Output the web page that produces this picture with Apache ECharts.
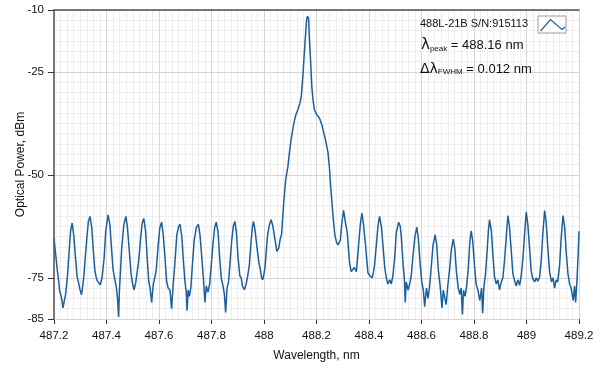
<!DOCTYPE html>
<html><head><meta charset="utf-8">
<script src="https://cdn.jsdelivr.net/npm/echarts@6/dist/echarts.min.js"></script>
<style>html,body{margin:0;padding:0;background:#fff}#c{width:599px;height:370px}</style>
</head><body><div id="c"></div>
<script>
// Axis settings
const xMin = 487.2, xMax = 489.2, xStep = 0.2;
const yMin = -85, yMax = -10;
const yTickValues = [-85, -75, -50, -25, -10];
const seriesName = '488L-21B S/N:915113';
const peakText = '488.16 nm';
const fwhmText = '0.012 nm';

// Spectrum: [wavelength nm, optical power dBm]
const spectrum = [
[487.200,-65.4],[487.213,-73.4],[487.218,-75.9],[487.222,-78.5],[487.226,-79.1],[487.231,-80.7],[487.234,-82.3],[487.238,-82.0],[487.244,-79.1],[487.248,-76.7],[487.252,-74.0],[487.256,-70.2],[487.263,-63.7],
[487.269,-61.7],[487.275,-64.5],[487.282,-70.2],[487.288,-74.7],[487.294,-76.3],[487.299,-77.9],[487.305,-79.1],[487.310,-76.7],[487.314,-74.5],[487.317,-71.8],[487.325,-65.4],[487.331,-61.3],
[487.337,-60.1],[487.344,-62.9],[487.350,-68.6],[487.356,-73.4],[487.363,-75.5],[487.369,-75.9],[487.376,-76.7],[487.383,-75.0],[487.391,-70.2],[487.397,-63.7],
[487.406,-59.7],[487.413,-62.1],[487.419,-67.8],[487.425,-73.0],[487.432,-75.5],[487.438,-77.5],[487.442,-80.0],[487.446,-84.5],[487.449,-78.5],[487.452,-74.7],[487.458,-67.8],[487.466,-62.1],
[487.474,-60.1],[487.480,-62.9],[487.488,-69.4],[487.494,-74.3],[487.500,-76.7],[487.505,-77.9],[487.511,-76.3],[487.517,-76.0],[487.523,-70.7],[487.530,-65.4],[487.536,-61.7],
[487.542,-60.6],[487.549,-63.7],[487.555,-70.2],[487.561,-75.9],[487.566,-77.5],[487.572,-81.0],[487.578,-76.7],[487.584,-77.0],[487.589,-73.4],[487.597,-67.0],[487.603,-62.9],
[487.610,-61.5],[487.616,-64.5],[487.623,-70.2],[487.629,-75.9],[487.635,-77.5],[487.642,-78.0],[487.648,-82.5],[487.654,-76.7],[487.661,-71.0],[487.668,-64.5],[487.675,-62.5],
[487.680,-62.0],[487.687,-65.0],[487.693,-71.0],[487.699,-76.0],[487.704,-78.5],[487.707,-83.0],[487.711,-78.0],[487.716,-79.5],[487.722,-77.0],[487.727,-72.0],[487.734,-66.0],[487.742,-62.8],
[487.750,-62.0],[487.756,-64.5],[487.763,-70.0],[487.769,-75.0],[487.775,-81.0],[487.780,-77.0],[487.787,-78.5],[487.793,-76.5],[487.799,-72.0],[487.806,-66.5],[487.812,-62.8],
[487.818,-61.5],[487.825,-64.0],[487.831,-70.0],[487.837,-75.0],[487.844,-77.0],[487.849,-79.0],[487.854,-83.4],[487.859,-77.5],[487.865,-76.0],[487.871,-71.0],[487.877,-66.0],[487.883,-62.5],
[487.889,-61.3],[487.895,-64.0],[487.901,-70.0],[487.908,-74.5],[487.913,-75.0],[487.918,-77.0],[487.925,-77.9],[487.932,-76.5],[487.938,-74.5],[487.944,-72.0],[487.951,-66.0],[487.956,-62.5],
[487.960,-61.3],[487.966,-63.5],[487.973,-67.5],[487.980,-71.0],[487.986,-73.0],[487.991,-75.0],[487.995,-75.5],[488.000,-74.0],[488.004,-72.5],[488.008,-69.0],[488.014,-64.5],[488.021,-62.0],
[488.027,-60.9],[488.034,-62.5],[488.040,-65.0],[488.049,-68.6],[488.056,-67.8],[488.062,-65.5],[488.067,-64.5],[488.076,-56.0],[488.083,-51.0],[488.091,-48.0],[488.098,-44.0],[488.103,-41.5],
[488.114,-37.4],[488.121,-35.5],[488.129,-34.2],[488.136,-32.8],[488.142,-31.0],[488.148,-26.1],[488.153,-21.0],[488.157,-17.2],[488.161,-13.5],[488.163,-12.0],[488.166,-11.5],[488.170,-12.2],
[488.173,-17.2],[488.178,-23.0],[488.182,-28.5],[488.187,-32.0],[488.192,-34.2],[488.201,-35.4],[488.211,-36.2],[488.220,-37.8],[488.228,-39.9],[488.236,-42.0],[488.244,-44.7],[488.249,-48.0],
[488.253,-52.0],[488.258,-56.0],[488.263,-60.1],[488.268,-63.5],[488.271,-65.0],[488.277,-66.5],[488.282,-67.0],[488.287,-66.7],[488.291,-65.8],[488.296,-62.0],
[488.303,-58.6],[488.310,-61.5],[488.317,-64.0],[488.326,-71.4],[488.332,-73.5],[488.339,-73.8],[488.344,-72.5],[488.352,-73.5],[488.360,-67.4],[488.367,-62.0],
[488.373,-59.3],[488.379,-62.0],[488.386,-66.5],[488.396,-73.8],[488.403,-74.5],[488.412,-75.0],[488.416,-74.0],[488.421,-72.0],[488.428,-67.0],[488.434,-62.5],
[488.440,-60.1],[488.447,-62.5],[488.453,-67.0],[488.460,-72.5],[488.466,-75.0],[488.472,-76.5],[488.479,-75.5],[488.485,-76.5],[488.491,-74.5],[488.498,-70.0],[488.504,-64.0],
[488.513,-61.5],[488.519,-62.5],[488.523,-65.0],[488.529,-71.0],[488.535,-75.5],[488.538,-81.0],[488.542,-76.0],[488.549,-78.0],[488.555,-76.5],[488.561,-74.5],[488.567,-70.0],[488.575,-65.0],
[488.582,-62.7],[488.588,-65.5],[488.594,-71.0],[488.601,-76.0],[488.607,-78.0],[488.612,-82.0],[488.619,-77.5],[488.625,-80.0],[488.631,-77.0],[488.637,-72.5],[488.644,-67.0],
[488.652,-64.6],[488.658,-67.0],[488.664,-73.0],[488.671,-77.0],[488.678,-82.3],[488.683,-78.0],[488.689,-80.0],[488.694,-81.5],[488.700,-77.0],[488.707,-73.0],[488.714,-68.0],
[488.721,-65.6],[488.727,-68.0],[488.733,-73.5],[488.740,-77.5],[488.746,-79.0],[488.751,-77.5],[488.756,-83.9],[488.760,-78.0],[488.766,-79.5],[488.772,-77.0],[488.778,-73.0],[488.784,-66.5],
[488.789,-63.6],[488.795,-66.0],[488.802,-72.0],[488.808,-76.5],[488.815,-78.0],[488.822,-80.5],[488.829,-77.5],[488.833,-83.6],[488.838,-77.0],[488.844,-74.0],[488.850,-68.5],[488.855,-63.5],
[488.859,-60.9],[488.866,-63.5],[488.872,-69.5],[488.878,-74.7],[488.885,-76.5],[488.891,-75.5],[488.897,-77.9],[488.904,-76.0],[488.910,-75.0],[488.916,-71.0],[488.923,-65.0],
[488.929,-59.9],[488.935,-62.5],[488.942,-68.5],[488.948,-74.0],[488.954,-75.5],[488.961,-77.0],[488.967,-75.5],[488.974,-76.8],[488.980,-74.5],[488.986,-70.5],[488.993,-64.0],
[488.999,-59.0],[489.005,-62.0],[489.012,-68.0],[489.018,-73.5],[489.024,-75.2],[489.031,-76.0],[489.037,-75.0],[489.043,-75.8],[489.050,-74.8],[489.056,-71.0],[489.062,-64.5],
[489.069,-58.7],[489.075,-61.5],[489.081,-67.5],[489.088,-73.5],[489.095,-76.0],[489.101,-75.0],[489.107,-77.5],[489.113,-75.5],[489.119,-76.0],[489.126,-72.0],[489.132,-65.5],
[489.139,-59.9],[489.145,-62.5],[489.151,-68.5],[489.158,-74.0],[489.164,-76.5],[489.170,-77.5],[489.178,-80.5],[489.183,-77.0],[489.187,-81.0],[489.192,-76.0],[489.197,-69.0],[489.200,-63.7]
];

const chart = echarts.init(document.getElementById('c'), null, {renderer: 'canvas'});
const FONT = 'Liberation Sans';
const fmtX = v => String(Math.round(v * 10) / 10);

chart.setOption({
  animation: false,
  backgroundColor: '#ffffff',
  grid: {left: 54, right: 20, top: 10, bottom: 51, containLabel: false},
  xAxis: [{
    type: 'value', min: xMin, max: xMax, interval: xStep, position: 'bottom',
    name: 'Wavelength, nm', nameLocation: 'middle', nameGap: 31, nameMoveOverlap: false,
    nameTextStyle: {fontFamily: FONT, fontSize: 12, color: '#111'},
    axisLine: {show: true, onZero: false, lineStyle: {color: '#cfcfcf', width: 1}},
    axisTick: {show: true, length: 5, lineStyle: {color: '#333'}},
    axisLabel: {margin: 11, fontFamily: FONT, fontSize: 11.5, color: '#111', formatter: fmtX},
    splitLine: {show: true, lineStyle: {color: '#d6d6d6', width: 1}},
    minorTick: {show: false, splitNumber: 8},
    minorSplitLine: {show: true, lineStyle: {color: '#eeeeee', width: 1}},
    z: 1
  }, {
    type: 'value', min: xMin, max: xMax, position: 'top',
    axisLine: {show: true, onZero: false, lineStyle: {color: '#505050', width: 1.5}},
    axisTick: {show: false}, axisLabel: {show: false}, splitLine: {show: false}, z: 3
  }],
  yAxis: [{
    type: 'value', min: yMin, max: yMax, interval: 2.5, position: 'left',
    axisLine: {show: false}, axisTick: {show: false}, axisLabel: {show: false},
    splitLine: {show: true, lineStyle: {color: '#eeeeee', width: 1}}, z: 0
  }, {
    type: 'value', min: yMin, max: yMax, position: 'left',
    name: 'Optical Power, dBm', nameLocation: 'middle', nameGap: 27, nameRotate: 90,
    nameMoveOverlap: false,
    nameTextStyle: {fontFamily: FONT, fontSize: 12, color: '#111'},
    axisLine: {show: true, onZero: false, lineStyle: {color: '#505050', width: 1.5}},
    axisTick: {show: true, length: 6, customValues: yTickValues, lineStyle: {color: '#333'}},
    axisLabel: {margin: 10, fontFamily: FONT, fontSize: 11.5, color: '#111', customValues: yTickValues},
    splitLine: {show: true, lineStyle: {color: '#d6d6d6', width: 1}},
    z: 2
  }],
  series: [{
    name: seriesName, type: 'line', xAxisIndex: 0, yAxisIndex: 1,
    data: spectrum, showSymbol: false, symbol: 'none',
    lineStyle: {color: '#1c5f9d', width: 1.5}, itemStyle: {color: '#1c5f9d'}, z: 5
  }],
  graphic: [
    {type: 'text', left: 420, top: 18, z: 10, style: {text: seriesName, fontFamily: FONT, fontSize: 11, fill: '#111'}},
    {type: 'rect', shape: {x: 538, y: 16, width: 28, height: 17}, z: 10, style: {fill: '#fff', stroke: '#9a9a9a', lineWidth: 1}},
    {type: 'polyline', shape: {points: [[540.5, 31], [550.5, 19.5], [562, 29.5], [565, 27]]}, z: 11, style: {stroke: '#1c5f9d', lineWidth: 1.2, fill: null}},
    {type: 'text', left: 421, top: 38, z: 10, style: {
      text: '{l|λ}{s|peak}{t| = ' + peakText + '}',
      rich: {
        l: {fontFamily: 'DejaVu Sans', fontSize: 15, fill: '#111', lineHeight: 18},
        s: {fontFamily: FONT, fontSize: 8, fill: '#111', verticalAlign: 'bottom', lineHeight: 18, padding: [0, 0, 2, 0]},
        t: {fontFamily: FONT, fontSize: 13, fill: '#111', lineHeight: 18}
      }}},
    {type: 'text', left: 420, top: 62, z: 10, style: {
      text: '{l|Δλ}{s|FWHM}{t| = ' + fwhmText + '}',
      rich: {
        l: {fontFamily: 'DejaVu Sans', fontSize: 14, fill: '#111', lineHeight: 18},
        s: {fontFamily: FONT, fontSize: 8, fill: '#111', verticalAlign: 'bottom', lineHeight: 18, padding: [0, 0, 2, 0]},
        t: {fontFamily: FONT, fontSize: 13, fill: '#111', lineHeight: 18}
      }}}
  ]
});
</script></body></html>
